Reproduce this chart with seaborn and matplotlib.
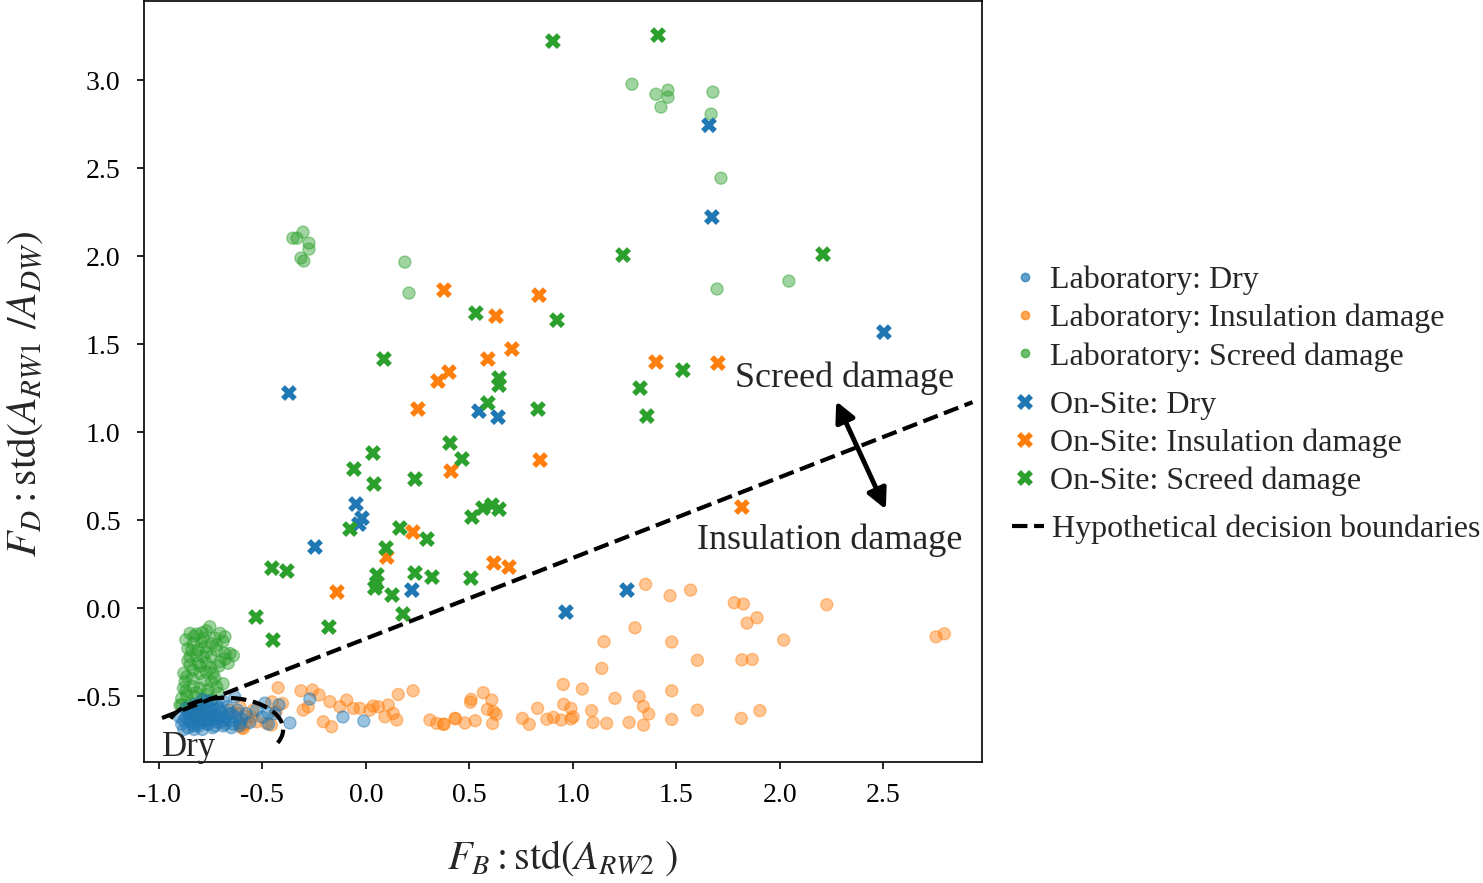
import matplotlib
matplotlib.use("Agg")
import matplotlib.pyplot as plt
import numpy as np
import pandas as pd
import seaborn as sns
from matplotlib.lines import Line2D

# ---- laboratory data (circles) ----
lab_dry_x = [-0.89, -0.87, -0.86, -0.85, -0.84, -0.83, -0.82, -0.81, -0.80, -0.79, -0.78, -0.77,
             -0.77, -0.76, -0.75, -0.74, -0.73, -0.72, -0.71, -0.70, -0.69, -0.68, -0.67, -0.66,
             -0.88, -0.84, -0.80, -0.76, -0.72, -0.68, -0.86, -0.82, -0.78, -0.74, -0.70, -0.79,
             -0.75, -0.83, -0.81, -0.73, -0.65, -0.64, -0.62, -0.60, -0.271, -0.111, -0.010,
             -0.367, -0.473, -0.488, -0.633, -0.609,
             -0.90, -0.88, -0.85, -0.83, -0.79, -0.75, -0.71, -0.69, -0.66, -0.63, -0.61, -0.58,
             -0.56, -0.53, -0.50, -0.47, -0.44, -0.42, -0.87, -0.81, -0.77, -0.73, -0.69, -0.65]
lab_dry_y = [-0.66, -0.62, -0.68, -0.64, -0.58, -0.67, -0.61, -0.55, -0.65, -0.69, -0.60, -0.53,
             -0.66, -0.63, -0.57, -0.68, -0.61, -0.55, -0.65, -0.59, -0.67, -0.62, -0.56, -0.64,
             -0.64, -0.66, -0.62, -0.66, -0.62, -0.66, -0.60, -0.64, -0.64, -0.64, -0.62, -0.57,
             -0.60, -0.69, -0.67, -0.67, -0.60, -0.66, -0.58, -0.63, -0.517, -0.619, -0.642,
             -0.653, -0.597, -0.540, -0.506, -0.653,
             -0.62, -0.69, -0.60, -0.55, -0.52, -0.53, -0.57, -0.53, -0.60, -0.62, -0.67, -0.60,
             -0.65, -0.58, -0.62, -0.66, -0.60, -0.55, -0.57, -0.59, -0.58, -0.58, -0.64, -0.68]

lab_ins_x = [1.351, 1.469, 1.568, 1.779, 1.823, 2.226, 1.889, 1.841, 1.300, 2.018, 1.150, 1.477,
             2.754, 2.794, 1.139, 1.601, 1.816, 1.866, 1.477, 1.203, 1.320, 1.340, 1.366, 1.601,
             1.903, 1.163, 1.271, 1.341, 1.477, 1.813,
             0.953, 1.045, 0.567, 0.508, 0.505, 0.608, 0.587, 0.617, 0.629, 0.955, 0.990, 1.090,
             0.829, 0.756, 0.789, 0.874, 0.906, 0.943, 1.001, 0.990, 1.097, 0.433, 0.478, 0.528,
             0.612, 0.378,
             -0.424, -0.314, -0.258, -0.226, -0.174, -0.093, -0.029, 0.035, 0.108, 0.156, 0.228,
             0.309, 0.342, 0.374, 0.430, -0.454, -0.403, -0.434, -0.609, -0.577, -0.545, -0.609,
             -0.528, -0.480, -0.456, -0.303, -0.279, -0.206, -0.166, -0.126, -0.061, 0.019, 0.060,
             0.092, 0.132, 0.149, -0.592, -0.62, -0.58, -0.55, -0.60, -0.66]
lab_ins_y = [0.135, 0.070, 0.102, 0.030, 0.023, 0.019, -0.055, -0.085, -0.112, -0.182, -0.191, -0.193,
             -0.163, -0.146, -0.343, -0.297, -0.294, -0.292, -0.470, -0.513, -0.502, -0.559, -0.602, -0.580,
             -0.583, -0.655, -0.650, -0.665, -0.633, -0.627,
             -0.434, -0.460, -0.481, -0.519, -0.535, -0.523, -0.576, -0.589, -0.604, -0.547, -0.570, -0.583,
             -0.570, -0.627, -0.661, -0.632, -0.621, -0.636, -0.619, -0.630, -0.650, -0.629, -0.653, -0.640,
             -0.656, -0.659,
             -0.453, -0.470, -0.466, -0.494, -0.532, -0.523, -0.570, -0.557, -0.551, -0.491, -0.470,
             -0.636, -0.655, -0.661, -0.627, -0.533, -0.542, -0.588, -0.561, -0.618, -0.580, -0.665,
             -0.646, -0.655, -0.665, -0.580, -0.561, -0.646, -0.674, -0.561, -0.570, -0.580, -0.561,
             -0.618, -0.599, -0.636, -0.684, -0.60, -0.66, -0.62, -0.68, -0.58]

lab_scr_x = [1.285, 1.401, 1.459, 1.459, 1.425, 1.676, 1.667, 1.715, 2.043, 1.696,
             -0.353, -0.333, -0.304, -0.275, -0.275, -0.314, -0.300, 0.188, 0.208,
             -0.850, -0.818, -0.770, -0.754, -0.794, -0.834, -0.778, -0.746, -0.705, -0.681, -0.721,
             -0.681, -0.657, -0.665, -0.705, -0.746, -0.786, -0.810, -0.850, -0.834, -0.866, -0.874,
             -0.802, -0.770, -0.738, -0.746, -0.721, -0.713, -0.762, -0.802, -0.834, -0.882, -0.890,
             -0.866, -0.826, -0.786, -0.810, -0.794, -0.834, -0.858, -0.898, -0.810,
             -0.842, -0.810, -0.786, -0.850, -0.770,
             -0.87, -0.83, -0.79, -0.73, -0.69, -0.86, -0.82, -0.77, -0.72, -0.68, -0.64, -0.86,
             -0.80, -0.75, -0.71, -0.88, -0.84, -0.78, -0.73, -0.69, -0.87, -0.82, -0.77, -0.74,
             -0.89, -0.85, -0.80, -0.76, -0.84]
lab_scr_y = [2.977, 2.920, 2.943, 2.903, 2.847, 2.932, 2.807, 2.443, 1.858, 1.813,
             2.102, 2.102, 2.136, 2.074, 2.040, 1.989, 1.972, 1.966, 1.790,
             -0.144, -0.148, -0.129, -0.106, -0.191, -0.201, -0.220, -0.201, -0.144, -0.163, -0.210,
             -0.258, -0.258, -0.314, -0.305, -0.276, -0.276, -0.314, -0.324, -0.352, -0.390, -0.419,
             -0.371, -0.362, -0.371, -0.419, -0.447, -0.485, -0.466, -0.456, -0.447, -0.456, -0.513,
             -0.494, -0.504, -0.523, -0.561, -0.618, -0.580, -0.570, -0.551, -0.598,
             -0.239, -0.239, -0.172, -0.276, -0.314,
             -0.18, -0.16, -0.14, -0.17, -0.19, -0.23, -0.27, -0.25, -0.24, -0.29, -0.27, -0.30,
             -0.33, -0.34, -0.33, -0.37, -0.40, -0.41, -0.40, -0.43, -0.47, -0.48, -0.49, -0.52,
             -0.55, -0.54, -0.58, -0.61, -0.63]

# ---- on-site data (crosses) ----
site_dry_x = [1.657, 1.671, 2.502, -0.372, 0.546, 0.638, -0.048, -0.019, -0.034, -0.246, 0.222,
              1.261, 0.966]
site_dry_y = [2.744, 2.222, 1.568, 1.222, 1.119, 1.085, 0.591, 0.511, 0.477, 0.347, 0.102,
              0.102, -0.023]

site_ins_x = [0.377, 0.836, 0.628, 0.705, 0.589, 0.401, 0.348, 0.251, 0.841, 0.411, 0.227,
              0.101, 0.618, 0.691, -0.140, 1.401, 1.700, 1.816]
site_ins_y = [1.807, 1.778, 1.659, 1.472, 1.415, 1.341, 1.290, 1.131, 0.841, 0.778, 0.432,
              0.290, 0.256, 0.233, 0.091, 1.398, 1.392, 0.574]

site_scr_x = [0.903, 1.411, 1.242, 2.208, 0.923, 0.531, 1.531, 1.324, 1.357, 0.087, 0.643,
              0.643, 0.589, 0.831, 0.406, 0.464, 0.034, -0.058, 0.039, 0.237, 0.512, 0.565,
              0.609, 0.643, -0.077, 0.164, 0.295, 0.097, -0.454, -0.382, 0.053, 0.053, 0.043,
              0.237, 0.319, 0.507, 0.126, 0.179, -0.531, -0.179, -0.449]
site_scr_y = [3.222, 3.256, 2.006, 2.011, 1.636, 1.676, 1.352, 1.250, 1.091, 1.415, 1.307,
              1.267, 1.165, 1.131, 0.938, 0.847, 0.881, 0.790, 0.705, 0.733, 0.517, 0.568,
              0.585, 0.562, 0.449, 0.455, 0.392, 0.341, 0.227, 0.210, 0.188, 0.142, 0.114,
              0.199, 0.176, 0.170, 0.074, -0.034, -0.051, -0.108, -0.182]

# hypothetical decision boundaries
boundary_x = [-0.985, 2.93]
boundary_y = [-0.625, 1.17]
dry_center = (-0.68, -0.69)
dry_radius = (0.28, 0.18)
dry_angles = (160, -25)

classes = ["Dry", "Insulation damage", "Screed damage"]
colors = ["#1f77b4", "#ff7f0e", "#2ca02c"]
palette = dict(zip(classes, colors))


def frame(xs, ys, label):
    return pd.DataFrame({"x": xs, "y": ys, "damage": label})


lab = pd.concat([frame(lab_scr_x, lab_scr_y, "Screed damage"),
                 frame(lab_ins_x, lab_ins_y, "Insulation damage"),
                 frame(lab_dry_x, lab_dry_y, "Dry")], ignore_index=True)
site = pd.concat([frame(site_dry_x, site_dry_y, "Dry"),
                  frame(site_ins_x, site_ins_y, "Insulation damage"),
                  frame(site_scr_x, site_scr_y, "Screed damage")], ignore_index=True)

sns.set_style("ticks")
plt.rcParams["font.family"] = ["Liberation Serif", "DejaVu Serif"]
plt.rcParams["mathtext.fontset"] = "stix"
plt.rcParams["axes.linewidth"] = 1.2
plt.rcParams["axes.edgecolor"] = "black"
plt.rcParams["axes.unicode_minus"] = False

fig = plt.figure(figsize=(14.83, 8.83), dpi=100)
ax = fig.add_axes([0.0971, 0.137, 0.5651, 0.8619])

sns.scatterplot(data=lab, x="x", y="y", hue="damage", palette=palette, marker="o",
                s=75, alpha=0.45, edgecolor="face", linewidth=1, legend=False, ax=ax)
sns.scatterplot(data=site, x="x", y="y", hue="damage", palette=palette, marker="X",
                s=130, linewidth=0, legend=False, ax=ax)

ax.plot(boundary_x, boundary_y, color="black", ls="--", lw=3)
t = np.radians(np.linspace(dry_angles[0], dry_angles[1], 60))
ax.plot(dry_center[0] + dry_radius[0] * np.cos(t), dry_center[1] + dry_radius[1] * np.sin(t),
        color="black", ls="--", lw=3)

ax.annotate("", xy=(2.266, 1.19), xytext=(2.517, 0.546),
            arrowprops=dict(arrowstyle="<|-|>", color="black", lw=3.5, mutation_scale=30))
ax.text(2.314, 1.307, "Screed damage", fontsize=26, ha="center", va="center")
ax.text(2.242, 0.386, "Insulation damage", fontsize=26, ha="center", va="center")
ax.text(-0.986, -0.795, "Dry", fontsize=25, ha="left", va="center")

ax.set_xlim(-1.072, 2.976)
ax.set_ylim(-0.875, 3.45)
ax.set_xticks([-1.0, -0.5, 0.0, 0.5, 1.0, 1.5, 2.0, 2.5])
ax.set_yticks([-0.5, 0.0, 0.5, 1.0, 1.5, 2.0, 2.5, 3.0])
ax.xaxis.set_major_formatter(matplotlib.ticker.FormatStrFormatter("%.1f"))
ax.yaxis.set_major_formatter(matplotlib.ticker.FormatStrFormatter("%.1f"))
ax.tick_params(labelsize=20, length=5, width=1.2, color="black", labelcolor="black")
ax.tick_params(axis="y", pad=12)
ax.tick_params(axis="x", pad=10)
ax.set_xlabel(r"$F_B : \mathrm{std}(A_{RW2}\ )$", fontsize=29, labelpad=22)
ax.set_ylabel(r"$F_D : \mathrm{std}(A_{RW1}\ /A_{DW})$", fontsize=30)
ax.yaxis.set_label_coords(-0.118, 0.484)

lab_handles = [Line2D([], [], ls="", marker="o", ms=6, color=c, alpha=0.7) for c in colors]
site_handles = [Line2D([], [], ls="", marker="X", ms=11, mew=0, color=c) for c in colors]
line_handle = [Line2D([], [], color="black", ls="--", lw=3)]
leg_kw = dict(frameon=False, fontsize=23, loc="upper left", handlelength=0.8,
              handletextpad=0.4, labelspacing=0.27, borderpad=0, borderaxespad=0)
leg1 = fig.legend(lab_handles, ["Laboratory: " + c for c in classes],
                  bbox_to_anchor=(0.6824, 0.699), **leg_kw)
leg2 = fig.legend(site_handles, ["On-Site: " + c for c in classes],
                  bbox_to_anchor=(0.6824, 0.5575), **leg_kw)
leg_kw.update(handlelength=1.0, handletextpad=0.25)
leg3 = fig.legend(line_handle, ["Hypothetical decision boundaries"],
                  bbox_to_anchor=(0.6824, 0.417), **leg_kw)

fig.savefig("out.png", dpi=100)
